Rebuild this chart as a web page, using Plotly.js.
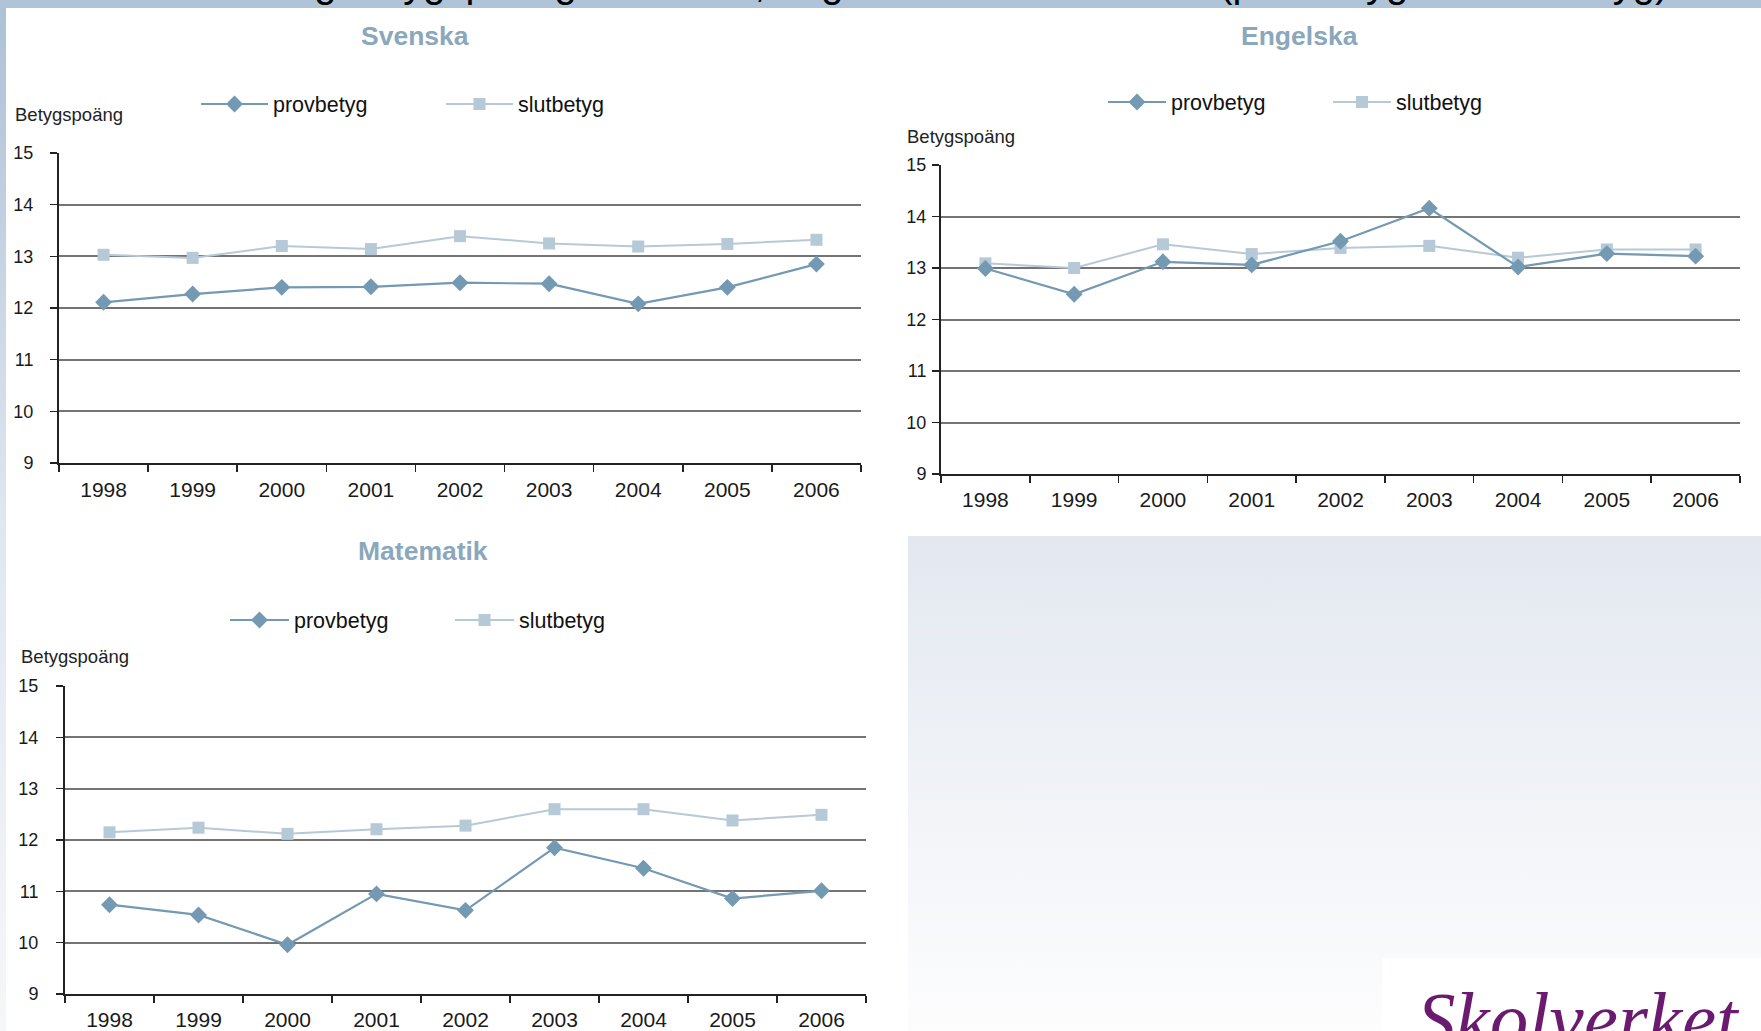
<!DOCTYPE html>
<html>
<head>
<meta charset="utf-8">
<script src="https://cdn.plot.ly/plotly-3.0.1.min.js"></script>
<style>
html,body{margin:0;padding:0;background:#fff;}
#wrap{position:relative;width:1761px;height:1031px;overflow:hidden;background:#fff;}
#topbar{position:absolute;left:0;top:0;width:1761px;height:8px;background:#afc3d9;}
#leftbar{position:absolute;left:0;top:8px;width:6px;height:1023px;background:linear-gradient(#adc1d7,#dfe7ef 50%,#f5f7fa);}
#panel{position:absolute;left:908px;top:536px;width:853px;height:495px;background:linear-gradient(#e3e8f0,#fdfdfe);}
#logobox{position:absolute;left:1382px;top:958px;width:379px;height:73px;background:#fff;}
#chart{position:absolute;left:0;top:0;width:1761px;height:1031px;}
</style>
</head>
<body>
<div id="wrap">
  <div id="topbar"></div>
  <div id="leftbar"></div>
  <div id="panel"></div>
  <div id="logobox"></div>
  <div id="chart"></div>
</div>
<script>
// ---- data ----
const years = ['1998','1999','2000','2001','2002','2003','2004','2005','2006'];
const yTicks = [9,10,11,12,13,14,15];

const svenskaProv = [12.11,12.27,12.40,12.41,12.49,12.47,12.08,12.40,12.85];
const svenskaSlut = [13.03,12.97,13.20,13.14,13.39,13.25,13.19,13.24,13.32];

const engelskaProv = [12.99,12.49,13.12,13.06,13.52,14.16,13.02,13.28,13.23];
const engelskaSlut = [13.09,13.00,13.46,13.27,13.39,13.43,13.20,13.36,13.36];

const matematikProv = [10.74,10.54,9.96,10.95,10.63,11.85,11.45,10.86,11.01];
const matematikSlut = [12.15,12.24,12.12,12.21,12.28,12.60,12.60,12.38,12.49];

const seriesNames = ['provbetyg','slutbetyg'];
const subjectTitles = ['Svenska','Engelska','Matematik'];
const yAxisLabel = 'Betygspoäng';
const slideTitle = 'Genomsnittlig betygspoäng i svenska, engelska och matematik (provbetyg och slutbetyg)';
const logoText = 'Skolverket';

// ---- styling ----
const W = 1761, H = 1031;
const px = v => v / W;
const py = v => 1 - v / H;
const provColor = '#7499b2';
const slutColor = '#b5c9d7';
const FONT = 'Liberation Sans, Arial, Helvetica, sans-serif';

function traces(prov, slut, xa, ya, leg) {
  return [
    {x: years, y: slut, name: seriesNames[1], type: 'scatter', mode: 'lines+markers',
     xaxis: xa, yaxis: ya, legend: leg, legendrank: 2,
     line: {color: slutColor, width: 2}, marker: {symbol: 'square', size: 12, color: slutColor}},
    {x: years, y: prov, name: seriesNames[0], type: 'scatter', mode: 'lines+markers',
     xaxis: xa, yaxis: ya, legend: leg, legendrank: 1,
     line: {color: provColor, width: 2.2}, marker: {symbol: 'diamond', size: 13, color: provColor}}
  ];
}

const data = [].concat(
  traces(svenskaProv, svenskaSlut, 'x', 'y', 'legend'),
  traces(engelskaProv, engelskaSlut, 'x2', 'y2', 'legend2'),
  traces(matematikProv, matematikSlut, 'x3', 'y3', 'legend3')
);

function xaxis(l, r, anchor, standoff) {
  return {domain: [px(l), px(r)], anchor: anchor, type: 'category', range: [-0.5, 8.5],
    showline: true, linecolor: '#222', linewidth: 2, ticks: 'outside', tickson: 'boundaries',
    ticklen: 7, tickwidth: 1.5, tickcolor: '#222', showgrid: false, zeroline: false,
    ticklabelstandoff: standoff, tickfont: {family: FONT, size: 21, color: '#1a1a1a'}, fixedrange: true};
}
function yaxis(top, bottom, anchor, standoff) {
  return {domain: [py(bottom), py(top)], anchor: anchor, range: [9, 15], tickvals: yTicks,
    showline: true, linecolor: '#222', linewidth: 2, ticks: 'outside', ticklen: 7, tickwidth: 1.5,
    tickcolor: '#222', showgrid: true, gridcolor: '#747474', gridwidth: 2, zeroline: false,
    ticklabelstandoff: standoff, tickfont: {family: FONT, size: 18, color: '#1a1a1a'}, fixedrange: true};
}
function legend(x, y, ew, iw) {
  return {x: px(x), y: py(y), xanchor: 'left', yanchor: 'middle', orientation: 'h',
    bgcolor: 'rgba(0,0,0,0)', borderwidth: 0, itemwidth: iw, entrywidth: ew, entrywidthmode: 'pixels',
    font: {family: FONT, size: 21.5, color: '#111'}, traceorder: 'normal'};
}
function ann(text, x, y, size, color, xanchor, extra) {
  return Object.assign({text: text, x: px(x), y: py(y), xref: 'paper', yref: 'paper', showarrow: false,
    xanchor: xanchor, yanchor: 'middle', font: {family: FONT, size: size, color: color}}, extra || {});
}

const titleColor = '#8aa7bc';
const titleFont = {family: FONT, size: 26.5, color: titleColor, weight: 'bold'};
const layout = {
  width: W, height: H, margin: {l: 0, r: 0, t: 0, b: 0},
  paper_bgcolor: 'rgba(0,0,0,0)', plot_bgcolor: 'rgba(0,0,0,0)',
  showlegend: true,
  xaxis: xaxis(59, 861, 'y', 7),   yaxis: yaxis(153, 463, 'x', 13),
  xaxis2: xaxis(941, 1740, 'y2', 6), yaxis2: yaxis(165, 474, 'x2', 2),
  xaxis3: xaxis(65, 866, 'y3', 6),  yaxis3: yaxis(686, 994, 'x3', 14),
  legend: legend(196, 104, 163, 67),
  legend2: legend(1103, 102, 152, 58),
  legend3: legend(225, 620, 151, 59),
  annotations: [
    ann(subjectTitles[0], 415, 36, 26.5, titleColor, 'center', {font: titleFont}),
    ann(subjectTitles[1], 1299, 36, 26.5, titleColor, 'center', {font: titleFont}),
    ann(subjectTitles[2], 423, 551, 26.5, titleColor, 'center', {font: titleFont}),
    ann(yAxisLabel, 13, 114, 18.5, '#222', 'left'),
    ann(yAxisLabel, 905, 136, 18.5, '#222', 'left'),
    ann(yAxisLabel, 19, 656, 18.5, '#222', 'left'),
    ann(slideTitle, 880, -17, 40, '#000', 'center'),
    ann(logoText, 1415, 1019, 77, '#6b1b6f', 'left', {font: {family: 'Liberation Serif, Times New Roman, serif', size: 77, color: '#6b1b6f', style: 'italic'}})
  ]
};

Plotly.newPlot('chart', data, layout, {displayModeBar: false, staticPlot: true});
</script>
</body>
</html>
